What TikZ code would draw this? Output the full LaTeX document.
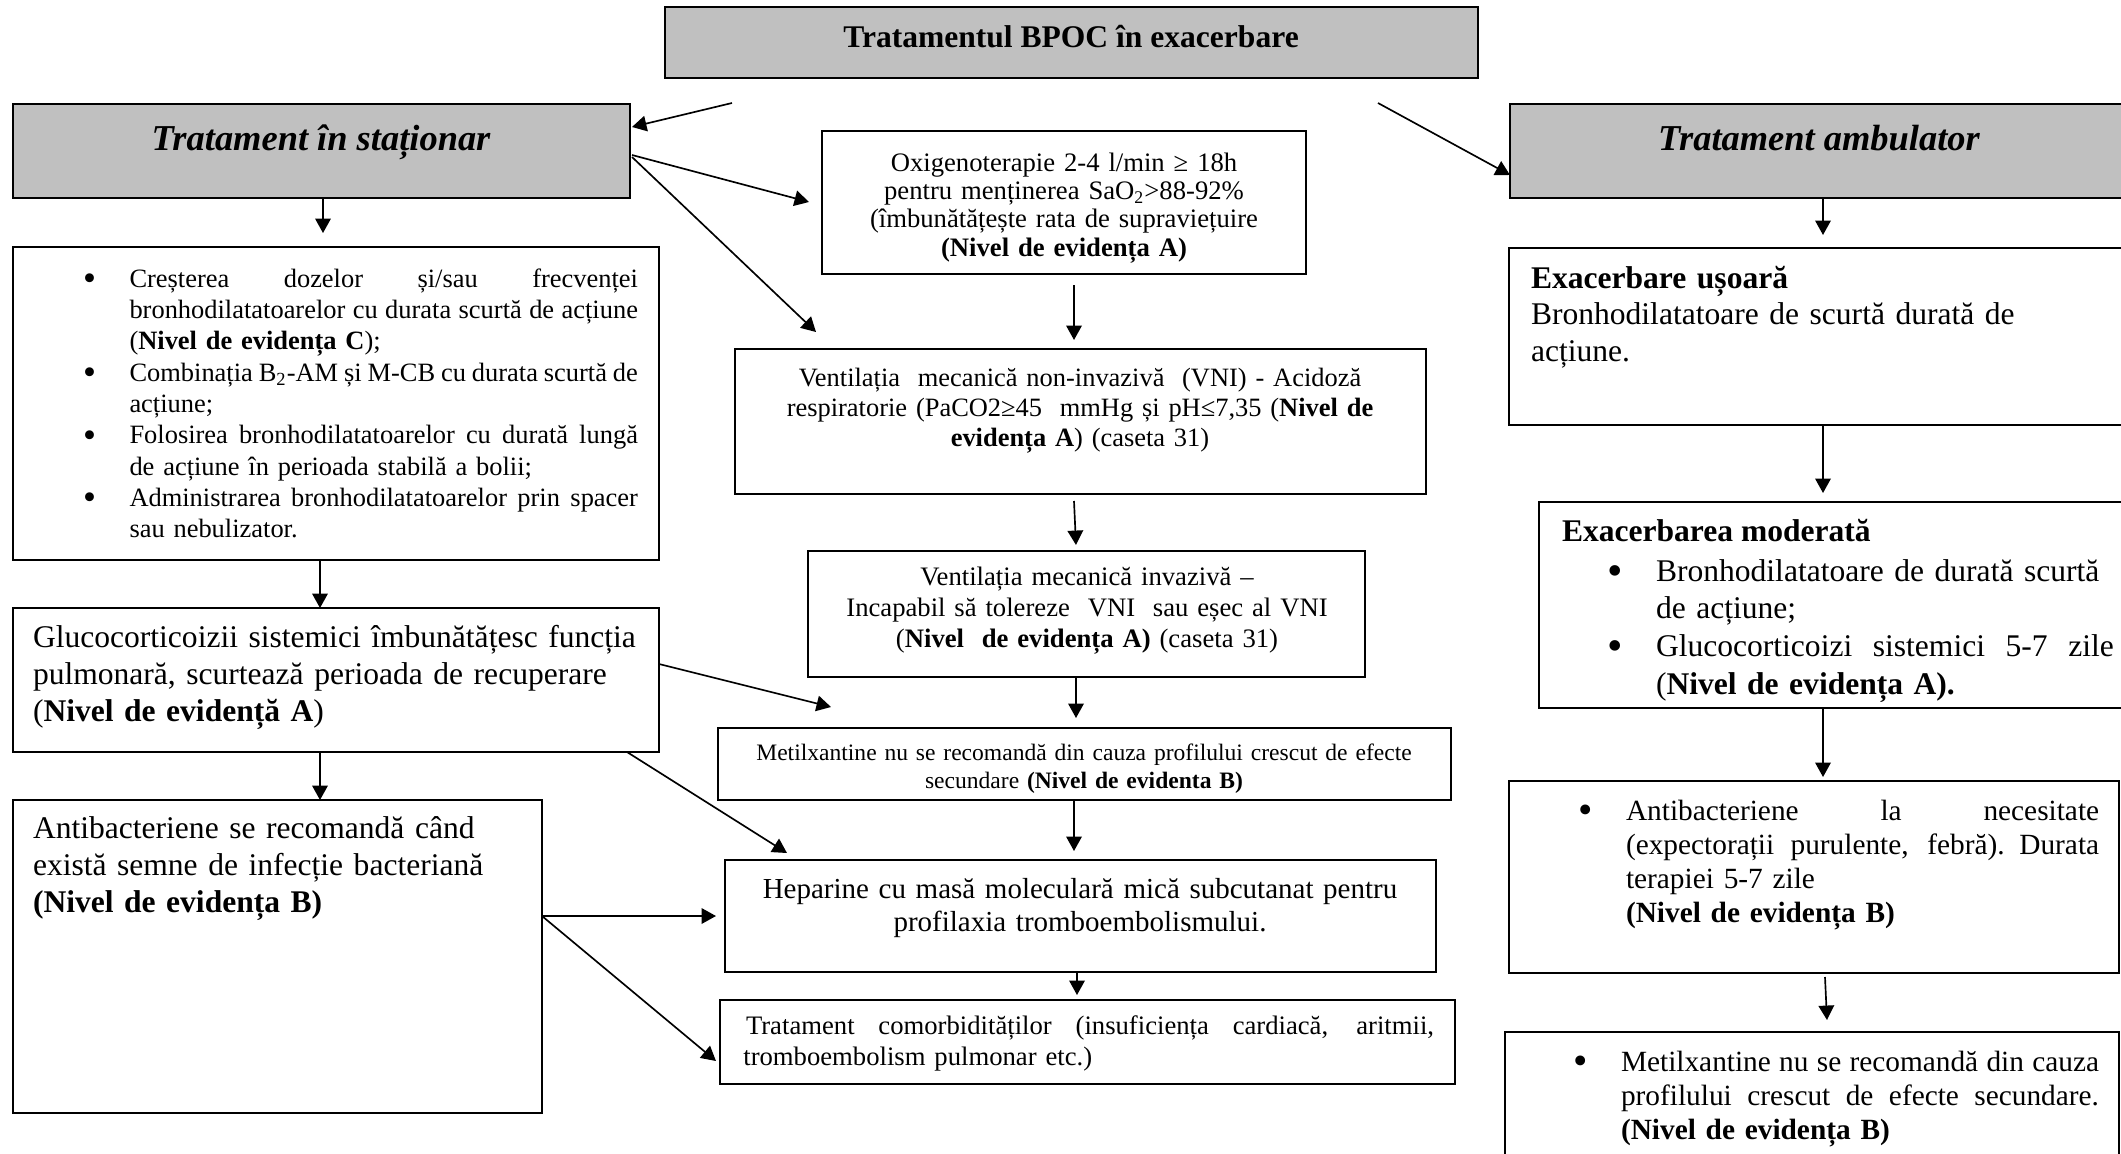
\documentclass[tikz,border=0pt]{standalone}
\usepackage{graphicx}
\usepackage{fontspec}
\setmainfont{Liberation Serif}
\usetikzlibrary{arrows.meta}

\definecolor{boxgrey}{RGB}{192,192,192}

\tikzset{
  box/.style={draw=black, line width=1.1pt, rectangle, inner sep=0pt, outer sep=0pt, anchor=north west},
  greybox/.style={box, fill=boxgrey},
  arr/.style={line width=0.75pt, -{Triangle[length=6.5pt,width=7pt]}},
  txt/.style={inner sep=0pt, outer sep=0pt, anchor=base west},
  ctxt/.style={inner sep=0pt, outer sep=0pt, anchor=base, align=center},
}

% \mkbox[style]{name}{x1}{y1}{x2}{y2}: empty framed box between two corners (pixel grid)
\newcommand\mkbox[6][box]{%
  \node[#1, minimum width={(#5-#3)*0.45pt}, minimum height={(#6-#4)*0.45pt}] (#2) at (#3,#4) {};}
\newcommand\fs[2]{\fontsize{#1}{#2}\selectfont}
% hanging bullet, and a line whose word spaces are spread to a given width
\newcommand\bul{\leavevmode\llap{\raisebox{-0.13em}{\scalebox{1.4}{•}}\hspace{15pt}}}
\newcommand\jline[2]{\leavevmode\hbox to #1{\spaceskip=0.25em plus 1fil minus 0.09em\relax #2}}

\begin{document}
\begin{tikzpicture}[x=0.45pt,y=-0.45pt]
\useasboundingbox (0,0) rectangle (2121,1153);
\fill[white] (0,0) rectangle (2121,1153);

% ---------- header boxes ----------
\mkbox[greybox]{title}{665}{7}{1478}{78}
\node[ctxt, font=\bfseries\fs{14.2pt}{16pt}] (titleT) at (1071,47) {Tratamentul BPOC în exacerbare};

\mkbox[greybox]{stat}{13}{104}{630}{198}
\node[ctxt, font=\bfseries\itshape\fs{16.4pt}{18pt}] (statT) at (321,150) {Tratament în staționar};

\mkbox[greybox]{amb}{1510}{104}{2140}{198}
\node[ctxt, font=\bfseries\itshape\fs{16.4pt}{18pt}] (ambT) at (1819,150) {Tratament ambulator};

% ---------- left column ----------
\mkbox{bul}{13}{247}{659}{560}
\node[txt, text width=228.8pt, align=left, font=\fs{11.9pt}{14.1pt}] (bulT) at (129.5,287) {%
\bul\jline{228.8pt}{Creșterea dozelor și/sau frecvenței}\\
\jline{228.8pt}{bronhodilatatoarelor cu durata scurtă de acțiune}\\
(\textbf{Nivel de evidența C});\\
\bul\jline{228.8pt}{Combinația B\textsubscript{2}-AM și M-CB cu durata scurtă de}\\
acțiune;\\
\bul\jline{228.8pt}{Folosirea bronhodilatatoarelor cu durată lungă}\\
de acțiune în perioada stabilă a bolii;\\
\bul\jline{228.8pt}{Administrarea bronhodilatatoarelor prin spacer}\\
sau nebulizator.};

\mkbox{glu}{13}{608}{659}{752}
\node[txt, text width=279pt, align=left, font=\fs{14.2pt}{16.65pt}] (gluT) at (33,647) {%
Glucocorticoizii sistemici îmbunătățesc funcția\\
pulmonară, scurtează perioada de recuperare\\
(\textbf{Nivel de evidență A})};

\mkbox{ant}{13}{800}{542}{1113}
\node[txt, text width=225pt, align=left, font=\fs{14.2pt}{16.65pt}] (antT) at (33,838) {%
Antibacteriene se recomandă când\\
există semne de infecție bacteriană\\
\textbf{(Nivel de evidența B)}};

% ---------- middle column ----------
\mkbox{oxy}{822}{131}{1306}{274}
\node[ctxt, text width=211.5pt, font=\fs{12pt}{12.8pt}] (oxyT) at (1064,171) {%
Oxigenoterapie 2-4 l/min ≥ 18h\\
pentru menținerea SaO\textsubscript{2}>88-92\%\\
(îmbunătățește rata de supraviețuire\\
\textbf{(Nivel de evidența A)}};

\mkbox{vni}{735}{349}{1426}{494}
\node[ctxt, text width=306pt, font=\fs{11.9pt}{13.5pt}] (vniT) at (1080,386) {%
Ventilația\ \ mecanică non-invazivă\ \ (VNI) - Acidoză\\
respiratorie (PaCO2≥45\ \ mmHg și pH≤7,35 (\textbf{Nivel de}\\
\textbf{evidența A}) (caseta 31)};

\mkbox{inv}{808}{551}{1365}{677}
\node[ctxt, text width=243pt, font=\fs{12pt}{14pt}] (invT) at (1087,585) {%
Ventilația mecanică invazivă –\\
Incapabil să tolereze\ \ VNI\ \ sau eșec al VNI\\
(\textbf{Nivel\ \ de evidența A)} (caseta 31)};

\mkbox{metx}{718}{728}{1451}{800}
\node[ctxt, text width=324pt, font=\fs{10.6pt}{13pt}] (metxT) at (1084,760) {%
Metilxantine nu se recomandă din cauza profilului crescut de efecte\\
secundare \textbf{(Nivel de evidenta B)}};

\mkbox{hep}{725}{860}{1436}{972}
\node[ctxt, text width=315pt, font=\fs{13.05pt}{14.85pt}] (hepT) at (1080,898) {%
Heparine cu masă moleculară mică subcutanat pentru\\
profilaxia tromboembolismului.};

\mkbox{com}{720}{1000}{1455}{1084}
\node[txt, text width=309.6pt, align=left, font=\fs{12pt}{14pt}] (comT) at (746,1034) {%
\jline{309.6pt}{Tratament comorbidităților (insuficiența cardiacă, aritmii,}\\
\hspace*{-1.2pt}tromboembolism pulmonar etc.)};

% ---------- right column ----------
\mkbox{uso}{1509}{248}{2140}{425}
\node[txt, text width=270pt, align=left, font=\fs{14.2pt}{16.6pt}] (usoT) at (1531,288) {%
\textbf{Exacerbare ușoară}\\
Bronhodilatatoare de scurtă durată de\\
acțiune.};

\mkbox{mod}{1539}{502}{2140}{708}
\node[txt, font=\bfseries\fs{14.2pt}{16pt}] (modH) at (1562,541) {Exacerbarea moderată};
\node[txt, text width=206pt, align=left, font=\fs{14.2pt}{17pt}] (modT) at (1656,581) {%
\bul Bronhodilatatoare de durată scurtă\\
de acțiune;\\
\bul\jline{206pt}{Glucocorticoizi sistemici 5-7 zile}\\
(\textbf{Nivel de evidența A).}};

\mkbox{abr}{1509}{781}{2119}{973}
\node[txt, text width=212.9pt, align=left, font=\fs{13.2pt}{15.3pt}] (abrT) at (1626,820) {%
\bul\jline{212.9pt}{Antibacteriene la necesitate}\\
\jline{212.9pt}{(expectorații purulente, febră). Durata}\\
terapiei 5-7 zile\\
\textbf{(Nivel de evidența B)}};

\mkbox{mxr}{1505}{1032}{2119}{1190}
\node[txt, text width=215.1pt, align=left, font=\fs{13.2pt}{15.5pt}] (mxrT) at (1621,1071) {%
\bul\jline{215.1pt}{Metilxantine nu se recomandă din cauza}\\
\jline{215.1pt}{profilului crescut de efecte secundare.}\\
\textbf{(Nivel de evidența B)}};

% ---------- connector end points ----------
\coordinate (tL) at (732,103);   \coordinate (tLe) at (632,127);
\coordinate (tR) at (1378,103);  \coordinate (tRe) at (1510,175);
\coordinate (sO) at (632,155);   \coordinate (sOe) at (809,202);
\coordinate (sV) at (632,157);   \coordinate (sVe) at (816,332);
\coordinate (sB) at (323,198);   \coordinate (sBe) at (323,233);
\coordinate (bG) at (320,560);   \coordinate (bGe) at (320,608);
\coordinate (gA) at (320,752);   \coordinate (gAe) at (320,800);
\coordinate (gM) at (659,664);   \coordinate (gMe) at (831,707);
\coordinate (gH) at (627,752);   \coordinate (gHe) at (787,853);
\coordinate (aX) at (542,916);   \coordinate (aHe) at (716,916);
                                 \coordinate (aCe) at (716,1061);
\coordinate (oV) at (1074,285);  \coordinate (oVe) at (1074,340);
\coordinate (vI) at (1074,501);  \coordinate (vIe) at (1076,545);
\coordinate (iM) at (1076,677);  \coordinate (iMe) at (1076,718);
\coordinate (mH) at (1074,800);  \coordinate (mHe) at (1074,851);
\coordinate (hC) at (1077,972);  \coordinate (hCe) at (1077,995);
\coordinate (aU) at (1823,198);  \coordinate (aUe) at (1823,235);
\coordinate (uM) at (1823,425);  \coordinate (uMe) at (1823,493);
\coordinate (mA) at (1823,708);  \coordinate (mAe) at (1823,777);
\coordinate (rX) at (1825,977);  \coordinate (rXe) at (1827,1020);

% ---------- connectors ----------
\draw[arr] (tL) -- (tLe);
\draw[arr] (tR) -- (tRe);
\draw[arr] (sO) -- (sOe);
\draw[arr] (sV) -- (sVe);
\draw[arr] (sB) -- (sBe);
\draw[arr] (bG) -- (bGe);
\draw[arr] (gA) -- (gAe);
\draw[arr] (gM) -- (gMe);
\draw[arr] (gH) -- (gHe);
\draw[arr] (aX) -- (aHe);
\draw[arr] (aX) -- (aCe);
\draw[arr] (oV) -- (oVe);
\draw[arr] (vI) -- (vIe);
\draw[arr] (iM) -- (iMe);
\draw[arr] (mH) -- (mHe);
\draw[arr] (hC) -- (hCe);
\draw[arr] (aU) -- (aUe);
\draw[arr] (uM) -- (uMe);
\draw[arr] (mA) -- (mAe);
\draw[arr] (rX) -- (rXe);
\end{tikzpicture}
\end{document}
